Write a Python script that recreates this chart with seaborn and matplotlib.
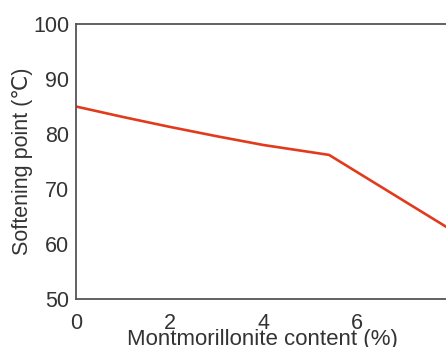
import matplotlib
matplotlib.use("Agg")
import matplotlib.pyplot as plt
import seaborn as sns
import pandas as pd

content = [0, 1, 2, 3, 4, 5.4, 8]
softening = [85.0, 83.1, 81.3, 79.6, 78.0, 76.2, 62.6]
xticks = [0, 2, 4, 6, 8]
yticks = [50, 60, 70, 80, 90, 100]

sns.set_style("white")
plt.rcParams['font.family'] = ['Liberation Sans', 'DejaVu Sans']

df = pd.DataFrame({"content": content, "softening": softening})

fig = plt.figure(figsize=(4.46, 3.47), dpi=100)
ax = fig.add_axes([0.1704, 0.1383, 1.011 - 0.1704, 0.9308 - 0.1383])
sns.lineplot(data=df, x="content", y="softening", ax=ax, color="#e23a1c",
             linewidth=1.9)
ax.set_xlim(0, 8)
ax.set_ylim(50, 100)
ax.set_xticks(xticks)
ax.set_yticks(yticks)
ax.tick_params(direction="in", length=4, width=1.2, colors="#444444",
               labelcolor="#333333", labelsize=15.5, pad=5)
ax.tick_params(axis="x", pad=10)
for s in ax.spines.values():
    s.set_color("#555555")
    s.set_linewidth(1.3)
ax.set_xlabel("Montmorillonite content (%)", fontsize=16, color="#333333",
              va="baseline")
ax.xaxis.set_label_coords((262 - 76) / 375, -(345 - 299) / 275)
ax.set_ylabel("Softening point (℃)", fontsize=15.5, color="#333333")
ax.yaxis.set_label_coords(-(76 - 33) / 375, 0.5)
fig.savefig("out.png", dpi=100)
